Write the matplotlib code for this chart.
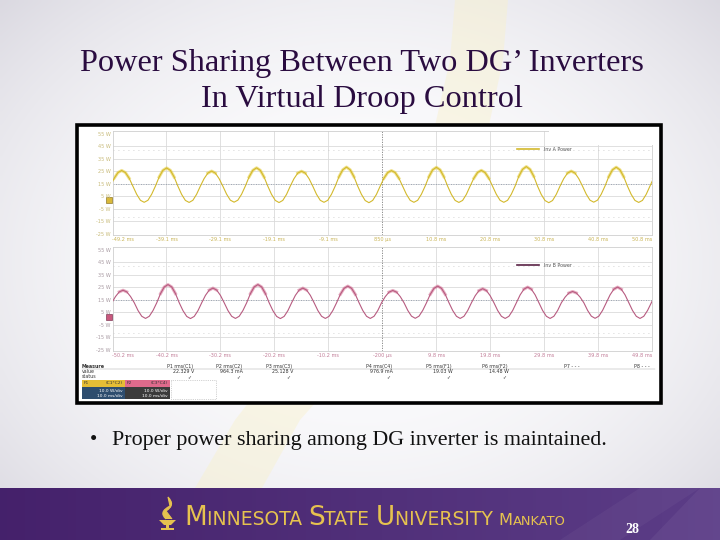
import numpy as np
import matplotlib
matplotlib.use("Agg")
import matplotlib.pyplot as plt
from matplotlib.patches import Rectangle, Polygon, PathPatch
from matplotlib.path import Path
from matplotlib.offsetbox import TextArea, HPacker, AnnotationBbox

# ---- data ----
# samples every 1/12 of a 120 Hz ripple period (0.694 ms), in W
step_ms = 8.333 / 12
t0_a = -50.38   # first sample, Inv A (rising crossing)
t0_b = -50.13   # first sample, Inv B
inv_a_power = [
    13.0, 19.3, 23.8, 25.5, 23.8, 19.3, 13.0, 6.5, 1.7, 0.1, 1.7, 6.5,
    13.0, 20.3, 25.6, 27.5, 25.6, 20.3, 13.0, 6.4, 1.6, 0.0, 1.7, 6.5,
    13.0, 19.0, 23.4, 25.0, 23.4, 19.0, 13.0, 6.6, 1.8, 0.2, 1.8, 6.5,
    13.0, 20.3, 25.6, 27.6, 25.6, 20.3, 13.0, 6.4, 1.6, -0.1, 1.6, 6.4,
    13.0, 19.0, 23.4, 24.9, 23.4, 19.0, 13.0, 6.5, 1.7, 0.1, 1.7, 6.5,
    13.0, 20.5, 26.0, 28.2, 26.0, 20.5, 13.0, 6.4, 1.5, -0.2, 1.6, 6.4,
    13.0, 19.3, 23.8, 25.4, 23.8, 19.3, 13.0, 6.5, 1.7, 0.1, 1.7, 6.5,
    13.0, 20.5, 26.0, 28.0, 26.0, 20.5, 13.0, 6.4, 1.6, 0.0, 1.6, 6.4,
    13.0, 19.3, 23.9, 25.6, 23.8, 19.3, 13.0, 6.5, 1.7, 0.1, 1.7, 6.5,
    13.0, 20.8, 26.4, 28.6, 26.4, 20.8, 13.0, 6.3, 1.5, -0.2, 1.5, 6.4,
    13.0, 19.0, 23.4, 25.0, 23.4, 19.0, 13.0, 6.6, 1.8, 0.2, 1.8, 6.5,
    13.0, 20.5, 26.0, 28.1, 26.0, 20.5, 13.0, 6.4, 1.6, 0.0, 1.6, 6.4,
    13.0, 19.5, 24.0,
]
inv_b_power = [
    12.5, 17.5, 21.2, 22.5, 21.2, 17.5, 12.5, 6.3, 1.7, 0.0, 1.7, 6.3,
    12.5, 19.8, 25.1, 27.0, 25.1, 19.8, 12.5, 6.2, 1.6, -0.1, 1.6, 6.2,
    12.5, 18.4, 22.6, 24.2, 22.6, 18.4, 12.5, 6.3, 1.7, 0.0, 1.7, 6.3,
    12.5, 19.8, 25.1, 27.0, 25.1, 19.8, 12.5, 6.2, 1.6, -0.1, 1.6, 6.2,
    12.5, 18.4, 22.6, 24.2, 22.6, 18.4, 12.5, 6.3, 1.7, 0.0, 1.7, 6.3,
    12.5, 19.2, 24.0, 25.8, 24.0, 19.2, 12.5, 6.3, 1.7, 0.0, 1.7, 6.3,
    12.5, 17.4, 21.0, 22.3, 21.0, 17.4, 12.5, 6.4, 1.8, 0.1, 1.8, 6.4,
    12.5, 19.2, 24.0, 25.8, 24.0, 19.2, 12.5, 6.3, 1.7, 0.0, 1.7, 6.3,
    12.5, 18.1, 22.2, 23.7, 22.2, 18.1, 12.5, 6.3, 1.7, 0.0, 1.7, 6.3,
    12.5, 18.8, 23.3, 25.0, 23.3, 18.8, 12.5, 6.3, 1.7, 0.0, 1.7, 6.3,
    12.5, 17.0, 20.3, 21.5, 20.3, 17.0, 12.5, 6.4, 1.8, 0.1, 1.8, 6.4,
    12.5, 18.8, 23.3, 25.0, 23.3, 18.8, 12.5, 6.3, 1.7, 0.0, 1.7, 6.3,
    12.5, 18.5, 22.8,
]
y_ticks = [55, 45, 35, 25, 15, 5, -5, -15, -25]
x_ticks = [-50, -40, -30, -20, -10, 0, 10, 20, 30, 40, 50]
x_labels_a = ["-49.2 ms", "-39.1 ms", "-29.1 ms", "-19.1 ms", "-9.1 ms", "850 µs",
              "10.8 ms", "20.8 ms", "30.8 ms", "40.8 ms", "50.8 ms"]
x_labels_b = ["-50.2 ms", "-40.2 ms", "-30.2 ms", "-20.2 ms", "-10.2 ms", "-200 µs",
              "9.8 ms", "19.8 ms", "29.8 ms", "39.8 ms", "49.8 ms"]
meas_names = ["P1 rms(C1)", "P2 rms(C2)", "P3 rms(C3)", "P4 rms(C4)",
              "P5 rms(F1)", "P6 rms(F2)", "P7 - - -", "P8 - - -"]
meas_values = ["22.329 V", "964.3 mA", "25.128 V", "976.9 mA", "19.03 W", "14.48 W", "", ""]

W, H = 720, 540
fig = plt.figure(figsize=(7.2, 5.4), dpi=100)

# background layer in pixel coords
bg = fig.add_axes([0, 0, 1, 1])
bg.axis("off")

yy, xx = np.mgrid[0:H:4, 0:W:4]
r = np.sqrt(((xx - 360) / 440.0) ** 2 + ((yy - 260) / 340.0) ** 2)
r = np.clip(r, 0, 1.2)
c_in = np.array([0.99, 0.99, 0.995])
c_out = np.array([0.89, 0.885, 0.91])
k = (r ** 2.4)[..., None]
img = np.clip(c_in * (1 - k) + c_out * k, 0, 1)
bg.imshow(img, extent=(0, W, H, 0), interpolation="bilinear", zorder=0, aspect="auto")

# faint flame watermark
flame = [(455, 0), (450, 60), (434, 130), (305, 330), (235, 420), (195, 488),
         (262, 488), (300, 420), (380, 330), (488, 130), (503, 60), (508, 0)]
bg.add_patch(Polygon(flame, closed=True, facecolor="#f8f1cc", edgecolor="none", alpha=0.45, zorder=1))

# title
title_kw = dict(family="Liberation Serif", fontsize=23.3, color="#2a0c40", ha="center", va="baseline", zorder=5)
bg.text(362, 71, "Power Sharing Between Two DG’ Inverters", **title_kw)
bg.text(362, 107, "In Virtual Droop Control", **title_kw)

# scope frame
bg.add_patch(Rectangle((77, 124.5), 584, 278, facecolor="white", edgecolor="black", lw=2.6, zorder=3))

# bullet
bg.text(90, 445, "•", family="Liberation Serif", fontsize=15, color="#111111", ha="left", va="baseline", zorder=5)
bg.text(112, 445, "Proper power sharing among DG inverter is maintained.", family="Liberation Serif",
        fontsize=15.8, color="#111111", ha="left", va="baseline", zorder=5)

# footer band
band = np.linspace(0, 1, 200)[None, :, None]
left_c = np.array([0.27, 0.13, 0.42])
right_c = np.array([0.36, 0.24, 0.53])
bg.imshow(left_c * (1 - band) + right_c * band, extent=(0, W, H, 488), aspect="auto", zorder=2)
bg.add_patch(Polygon([(560, 540), (640, 488), (700, 488), (620, 540)], facecolor="white", alpha=0.04, zorder=2))
bg.add_patch(Polygon([(650, 540), (700, 488), (720, 488), (720, 540)], facecolor="white", alpha=0.05, zorder=2))
bg.set_xlim(0, W)
bg.set_ylim(H, 0)

gold = "#e6c24f"
# torch logo
flame_path = Path([(166, 519), (158, 512), (170, 506), (168, 497), (176, 505), (166, 511), (172, 519)],
                  [Path.MOVETO, Path.CURVE3, Path.CURVE3, Path.LINETO, Path.CURVE3, Path.CURVE3, Path.LINETO])
bg.add_patch(PathPatch(flame_path, facecolor=gold, edgecolor=gold, lw=0.8, zorder=4))
bg.add_patch(Polygon([(159, 520), (176, 520), (171, 525), (164, 525)], facecolor=gold, edgecolor="none", zorder=4))
bg.add_patch(Rectangle((166, 525), 3, 3, facecolor=gold, edgecolor="none", zorder=4))
bg.add_patch(Rectangle((161, 528), 13, 2, facecolor=gold, edgecolor="none", zorder=4))

pieces = [("M", 18.9), ("INNESOTA ", 13.5), ("S", 18.9), ("TATE ", 13.5), ("U", 18.9), ("NIVERSITY ", 13.5),
          ("M", 11.7), ("ANKATO", 9.4)]
areas = [TextArea(s, textprops=dict(family="DejaVu Sans", fontsize=fs, color=gold)) for s, fs in pieces]
packed = HPacker(children=areas, align="baseline", pad=0, sep=0)
bg.add_artist(AnnotationBbox(packed, (184, 531), xycoords="data", box_alignment=(0, 0),
                             frameon=False, pad=0, zorder=6))
bg.text(632, 533, "28", family="Liberation Serif", fontsize=10, fontweight="bold", color="white",
        ha="center", va="baseline", zorder=6)


def px_axes(x0, y0, x1, y1):
    return fig.add_axes([x0 / W, 1 - y1 / H, (x1 - x0) / W, (y1 - y0) / H])


def scope_panel(ax, t0, values, line_c, fuzz_c, labels, lab_c, ylab_c, legend, legend_c):
    t = t0 + step_ms * np.arange(len(values))
    v = np.array(values)
    ax.set_xlim(-50, 50)
    ax.set_ylim(-26, 57)
    for x in x_ticks[1:-1]:
        if x != 0:
            ax.axvline(x, color="#dadada", lw=0.6, zorder=1)
    for y in y_ticks[1:-1]:
        ax.axhline(y, color="#dadada", lw=0.6, zorder=1)
    ax.axvline(0, color="#7c7c7c", lw=0.6, ls=(0, (1.5, 1.5)), zorder=1)
    ax.axhline(15, color="#8794a8", lw=0.6, ls=(0, (1, 2)), zorder=1)
    for y in (42, -12):
        ax.axhline(y, color="#c4c4c4", lw=0.6, ls=(0, (1, 5)), zorder=1)
    ax.plot(t, np.where(v > 19, v, np.nan), color=fuzz_c, lw=2.2, alpha=0.6, zorder=2)
    ax.plot(t, v, color=line_c, lw=0.8, zorder=3)
    ax.set_yticks(y_ticks)
    ax.set_yticklabels([f"{y} W" for y in y_ticks])
    ax.set_xticks(x_ticks)
    ax.set_xticklabels(labels)
    ax.tick_params(length=0, labelsize=3.6, pad=1.5)
    for lb in ax.get_yticklabels():
        lb.set_color(ylab_c)
    xl = ax.get_xticklabels()
    for lb in xl:
        lb.set_color(lab_c)
    xl[0].set_ha("left")
    xl[-1].set_ha("right")
    for s in ax.spines.values():
        s.set_color("#cfcfcf")
        s.set_linewidth(0.6)
    ax.plot([25, 29], [42.5, 42.5], color=legend_c, lw=1.2, zorder=4)
    ax.text(30, 42.5, legend, fontsize=3.4, color="#555555", va="center", zorder=4)


ax_a = px_axes(112.5, 131, 652, 235)
scope_panel(ax_a, t0_a, inv_a_power, "#d3b92c", "#e6cf45", x_labels_a, "#c9b456", "#c8bb7a",
            "Inv A Power", "#d3b92c")
ax_a.add_patch(Rectangle((30.9, 45.8), 19.5, 11.5, facecolor="white", edgecolor="none", zorder=5, clip_on=False))

ax_b = px_axes(112.5, 247, 652, 351)
scope_panel(ax_b, t0_b, inv_b_power, "#b75b80", "#d8789a", x_labels_b, "#c27d98", "#a89aa2",
            "Inv B Power", "#5a2346")

# ground markers
bg.add_patch(Rectangle((106, 197), 6, 6, facecolor="#d9b93a", edgecolor="#7a6210", lw=0.4, zorder=4))
bg.add_patch(Rectangle((106, 314), 6, 6, facecolor="#c9587d", edgecolor="#6a2040", lw=0.4, zorder=4))

# measurement table
tiny = dict(fontsize=3.4, color="#333333", zorder=5, va="center")
bg.text(82, 366.5, "Measure", fontweight="bold", **tiny)
bg.text(82, 371.5, "value", **tiny)
bg.text(82, 376.5, "status", **tiny)
bg.plot([82, 655], [369.2, 369.2], color="#9a9a9a", lw=0.3, zorder=5)
name_x = [193, 242, 292, 392, 452, 508, 580, 650]
for x, n, val in zip(name_x, meas_names, meas_values):
    bg.text(x, 366.5, n, ha="right", **tiny)
    if val:
        bg.text(x + 1, 371.5, val, ha="right", **tiny)
        bg.text(x - 2, 376.5, "✓", ha="right", fontsize=3.4, color="#333333", va="center", zorder=5)

# channel boxes
bg.add_patch(Rectangle((82, 380), 43, 7, facecolor="#e5bd35", edgecolor="none", zorder=4))
bg.add_patch(Rectangle((82, 387), 43, 12, facecolor="#2e4d6e", edgecolor="none", zorder=4))
bg.add_patch(Rectangle((125, 380), 45, 7, facecolor="#df6a8c", edgecolor="none", zorder=4))
bg.add_patch(Rectangle((125, 387), 45, 12, facecolor="#3b3b3b", edgecolor="none", zorder=4))
bg.add_patch(Rectangle((171, 380), 45, 19, facecolor="none", edgecolor="#a8a8a8", lw=0.5, ls=":", zorder=4))
box_txt = dict(fontsize=3.2, zorder=5, va="center")
bg.text(84, 383.5, "F1", color="#333333", ha="left", **box_txt)
bg.text(123, 383.5, "(C1*C2)", color="#333333", ha="right", **box_txt)
bg.text(127, 383.5, "F2", color="#333333", ha="left", **box_txt)
bg.text(168, 383.5, "(C3*C4)", color="#333333", ha="right", **box_txt)
for x in (123, 168):
    bg.text(x, 391, "10.0 W/div", color="white", ha="right", **box_txt)
    bg.text(x, 396, "10.0 ms/div", color="white", ha="right", **box_txt)

fig.savefig("out.png", dpi=100)
